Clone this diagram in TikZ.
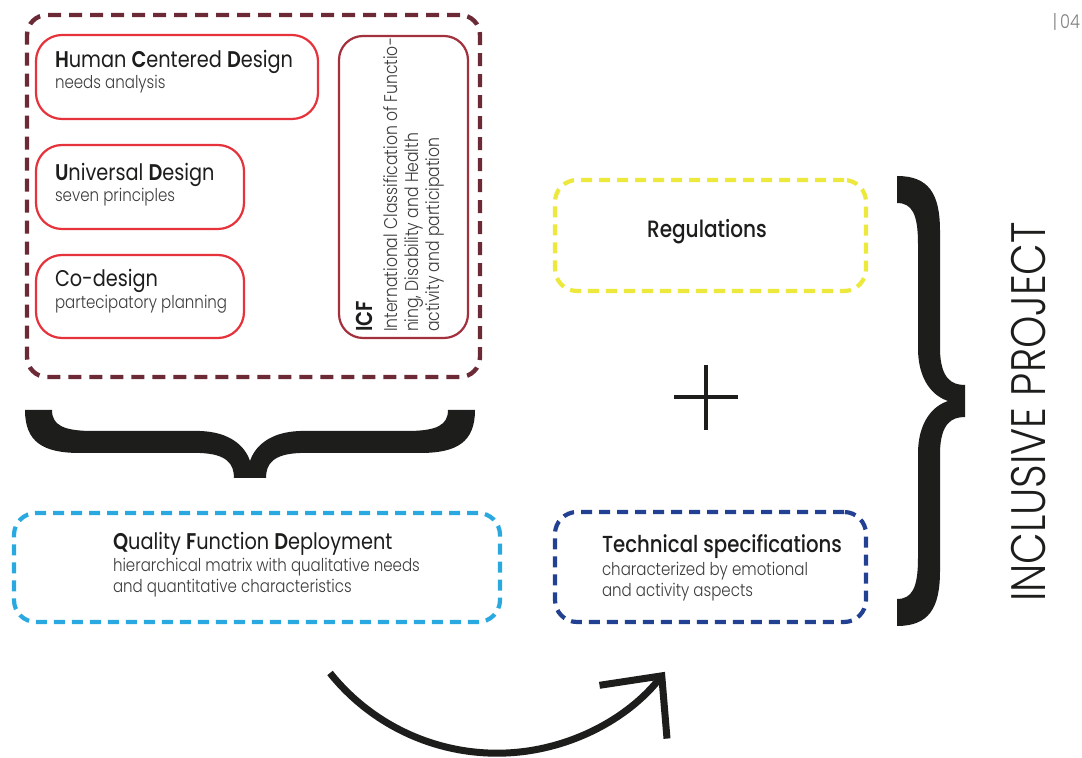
\documentclass[tikz,border=0pt]{standalone}
\usepackage{fontspec}
\setmainfont{Poppins}[FakeStretch=0.85]
\newfontfamily\lightfont{Poppins Light}[FakeStretch=0.85]
\newfontfamily\medfont{Poppins Medium}[FakeStretch=0.85]
\newfontfamily\semifont{Poppins SemiBold}[FakeStretch=0.85]
\usetikzlibrary{arrows.meta}
\definecolor{framered}{HTML}{6B2A35}
\definecolor{boxred}{HTML}{E6333B}
\definecolor{icfred}{HTML}{A3313D}
\definecolor{qfdblue}{HTML}{29A9E0}
\definecolor{regyellow}{HTML}{ECE83C}
\definecolor{techblue}{HTML}{224193}
\definecolor{titletext}{HTML}{1D1D1B}
\definecolor{subtext}{HTML}{3C3C3B}
\newcommand{\initial}[1]{{\semifont #1}}
\newcommand{\bracepath}{(0,0) -- (27,0)
  .. controls (27,15) and (38,21) .. (68,21) -- (175,21)
  .. controls (205,22) and (220,36) .. (225,51)
  .. controls (230,36) and (245,22) .. (275,21) -- (382,21)
  .. controls (412,21) and (423,15) .. (423,0) -- (450,0)
  .. controls (450,32) and (432,43) .. (395,43) -- (275,43)
  .. controls (248,44) and (241,54) .. (241,68) -- (209,68)
  .. controls (209,54) and (202,44) .. (175,43) -- (55,43)
  .. controls (18,43) and (0,32) .. (0,0) -- cycle}

\begin{document}
\begin{tikzpicture}[x=0.5pt,y=-0.5pt,
  every node/.style={inner sep=0pt,outer sep=0pt},
  framebox/.style={draw=framered,line width=2.2pt,dash pattern=on 6.5pt off 4pt,rounded corners=10pt},
  redbox/.style={draw=boxred,line width=1.1pt,rounded corners=13pt},
  dashbox/.style={line width=2.1pt,dash pattern=on 5.5pt off 3.5pt,rounded corners=11pt},
  title/.style={anchor=base west,text=titletext,font=\fontsize{11.35}{14}\selectfont},
  subtitle/.style={anchor=base west,text=subtext,font=\lightfont\fontsize{8.85}{11}\selectfont},
  icfline/.style={rotate=90,anchor=base west,text=subtext,font=\lightfont\fontsize{9.2}{11}\selectfont},
  bracket/.style={fill=titletext,draw=none},
  arrowline/.style={draw=titletext,line width=3.5pt,-{Straight Barb[length=23pt,width=43pt,line cap=butt,line join=miter]}}]
\useasboundingbox[fill=white] (0,0) rectangle (1082,758);

\node[framebox,minimum width=226.5pt,minimum height=181pt] (frame) at (253.5,196) {};
\node[redbox,minimum width=141pt,minimum height=42pt] (hcd) at (177,77) {};
\node[redbox,minimum width=104pt,minimum height=42pt] (ud) at (140,187) {};
\node[redbox,minimum width=104pt,minimum height=41.5pt] (cod) at (140,296.5) {};
\node[redbox,draw=icfred,minimum width=64.5pt,minimum height=151pt,rounded corners=12pt] (icf) at (403.5,187) {};

\node[title] (hcdt) at (55,68) {\initial{H}uman \initial{C}entered \initial{D}esign};
\node[subtitle] (hcds) at (55,89) {needs analysis};
\node[title] (udt) at (55,181) {\initial{U}niversal \initial{D}esign};
\node[subtitle] (uds) at (55,202) {seven principles};
\node[title] (codt) at (55,287) {Co-design};
\node[subtitle] (cods) at (55,309) {partecipatory planning};

\node[icfline,text=titletext,font=\semifont\fontsize{11.5}{13}\selectfont] (icft) at (372,332) {ICF};
\node[icfline] (icf1) at (397,332) {International Classification of Functio-};
\node[icfline] (icf2) at (418,332) {ning, Disability and Health};
\node[icfline] (icf3) at (439,332) {activity and participation};

\begin{scope}[shift={(25,410)}]
\fill[bracket] \bracepath;
\end{scope}

\node[dashbox,draw=qfdblue,minimum width=243pt,minimum height=54.5pt] (qfd) at (257,567.5) {};
\node[title] (qfdt) at (113,550) {\initial{Q}uality \initial{F}unction \initial{D}eployment};
\node[subtitle] (qfds1) at (113,572) {hierarchical matrix with qualitative needs};
\node[subtitle] (qfds2) at (113,593) {and quantitative characteristics};

\node[dashbox,draw=regyellow,minimum width=155.5pt,minimum height=55.5pt] (reg) at (710.5,235.5) {};
\node[title,anchor=base,font=\medfont\fontsize{11.8}{14}\selectfont] (regt) at (707,238) {Regulations};

\coordinate (plus) at (706,397.5);
\draw[titletext,line width=2pt] (plus) ++(-32,0) -- ++(64,0);
\draw[titletext,line width=2pt] (plus) ++(0,-32.5) -- ++(0,65);

\node[dashbox,draw=techblue,minimum width=155.5pt,minimum height=55pt] (tech) at (710.5,567) {};
\node[title,font=\medfont\fontsize{11.6}{14}\selectfont] (techt) at (602,553) {Technical specifications};
\node[subtitle] (techs1) at (602,576) {characterized by emotional};
\node[subtitle] (techs2) at (602,597) {and activity aspects};

\begin{scope}[shift={(897,176)},x={(0pt,-0.5pt)},y={(0.5pt,0pt)}]
\fill[bracket] \bracepath;
\end{scope}

\node[icfline,text=titletext,font=\lightfont\fontsize{24.2}{28}\selectfont] (incl) at (1045,602) {INCLUSIVE PROJECT};
\node[anchor=base east,text=gray,font=\lightfont\fontsize{9.5}{11}\selectfont] (page) at (1080,29) {|\,04};

\coordinate (arcstart) at (330,673);
\draw[arrowline] (arcstart) arc[start angle=141.3,end angle=38.3,radius=214];
\end{tikzpicture}
\end{document}
